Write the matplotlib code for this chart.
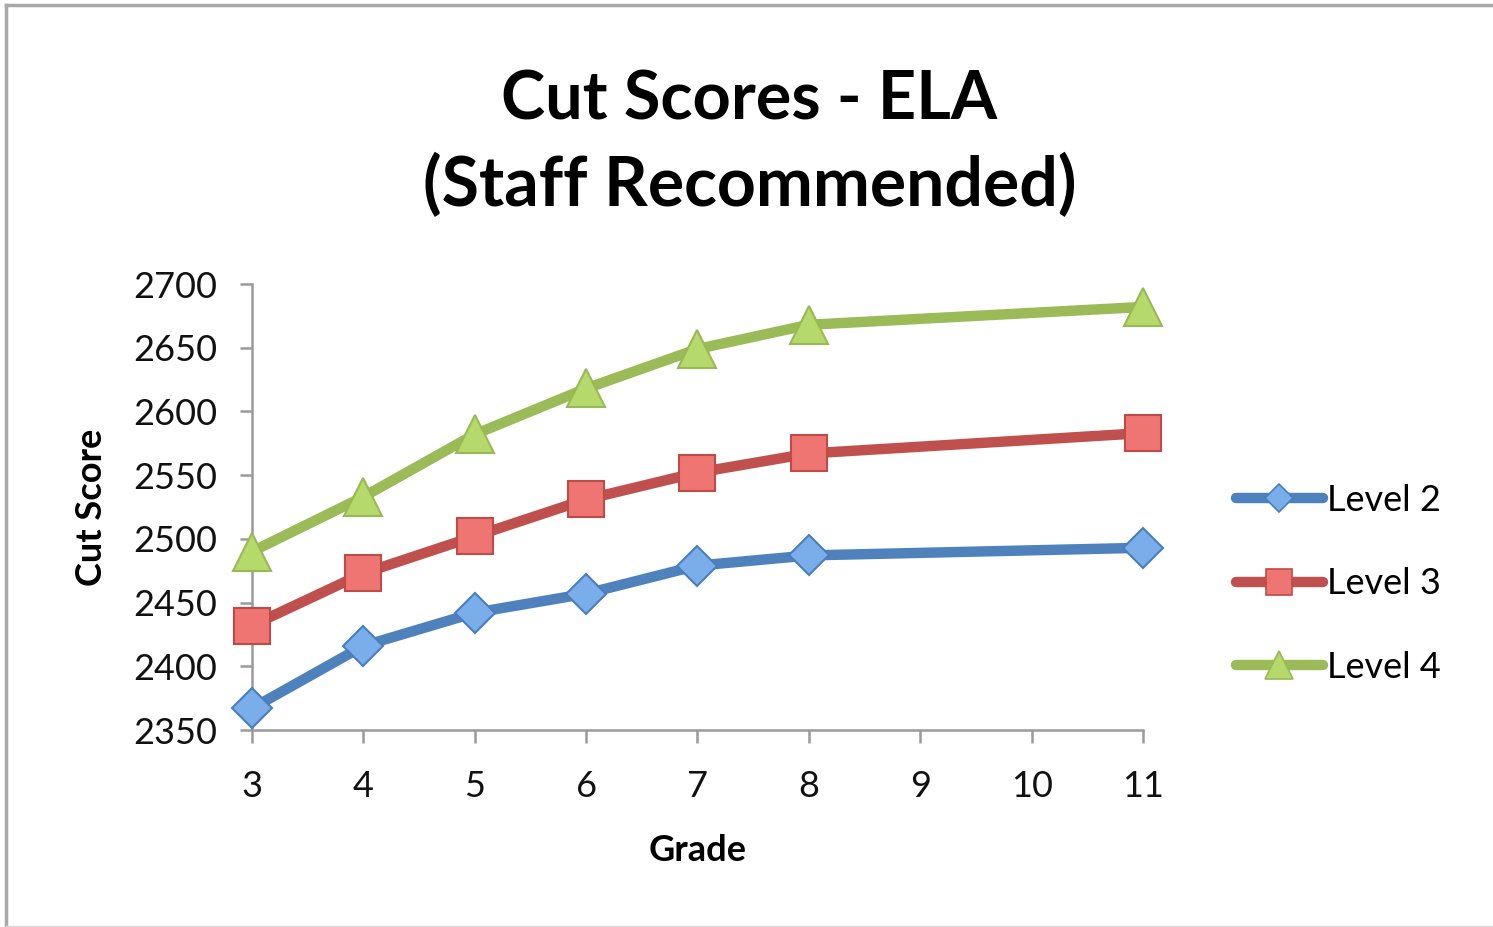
import matplotlib
matplotlib.use("Agg")
import matplotlib.pyplot as plt
from matplotlib.lines import Line2D

grades = [3, 4, 5, 6, 7, 8, 11]
level2 = [2367, 2416, 2442, 2457, 2479, 2487, 2493]
level3 = [2432, 2473, 2502, 2531, 2552, 2567, 2583]
level4 = [2490, 2533, 2582, 2618, 2649, 2668, 2682]
series_names = ["Level 2", "Level 3", "Level 4"]
x_ticks = [3, 4, 5, 6, 7, 8, 9, 10, 11]
y_ticks = [2350, 2400, 2450, 2500, 2550, 2600, 2650, 2700]

plt.rcParams['font.family'] = ['Lato', 'DejaVu Sans']

fig = plt.figure(figsize=(14.93, 9.27), dpi=100)
ax = fig.add_axes([252/1493, 1-730/927, (1143-252)/1493, (730-284)/927])

styles = [
    dict(color='#4F81BD', marker='D', ms=20, mfc='#79AEEA', mec='#4A7EBB'),
    dict(color='#C0504D', marker='s', ms=26, mfc='#EE7572', mec='#BE4B48'),
    dict(color='#9BBB59', marker='^', ms=28, mfc='#B5D96B', mec='#98B954'),
]
for vals, st in zip([level2, level3, level4], styles):
    ax.plot(grades, vals, lw=7.5, solid_capstyle='round', solid_joinstyle='round',
            color=st['color'], marker=st['marker'], markersize=st['ms'],
            markerfacecolor=st['mfc'], markeredgecolor=st['mec'], markeredgewidth=1.5,
            clip_on=False, zorder=3)

ax.set_xlim(3, 11)
ax.set_ylim(2350, 2700)
ax.set_xticks(x_ticks)
ax.set_yticks(y_ticks)
for s in ['top', 'right']:
    ax.spines[s].set_visible(False)
for s in ['left', 'bottom']:
    ax.spines[s].set_color('#9a9a9a')
    ax.spines[s].set_linewidth(1.8)
ax.tick_params(axis='both', colors='#9a9a9a', length=9, width=1.8, labelsize=26,
               labelcolor='#111111')
ax.tick_params(axis='y', pad=16)
ax.tick_params(axis='x', pad=20)

ax.set_xlabel("Grade", fontsize=26, fontweight='bold', labelpad=22)
ax.set_ylabel("Cut Score", fontsize=26, fontweight='bold', labelpad=18)

fig.text(0.502, 1-100/927, "Cut Scores - ELA", ha='center', va='center',
         fontsize=48, fontweight='bold')
fig.text(0.502, 1-185/927, "(Staff Recommended)", ha='center', va='center',
         fontsize=49, fontweight='bold')

handles = []
for st in styles:
    handles.append(Line2D([0], [0], lw=7.5, solid_capstyle='round', color=st['color'],
                          marker=st['marker'], markersize=st['ms']*0.72,
                          markerfacecolor=st['mfc'], markeredgecolor=st['mec'],
                          markeredgewidth=1.2))
leg = fig.legend(handles, series_names, loc='center left',
                 bbox_to_anchor=(1236/1493, 1-584/927), frameon=False,
                 fontsize=26, handlelength=2.4, handletextpad=0.12,
                 labelspacing=1.40, borderpad=0, borderaxespad=0)

# outer border
fig.add_artist(Line2D([6/1493, 1], [1-5/927, 1-5/927], transform=fig.transFigure,
                      color='#a8a8a8', lw=2.5))
fig.add_artist(Line2D([6/1493, 6/1493], [1-5/927, 1-926/927], transform=fig.transFigure,
                      color='#a8a8a8', lw=2.5))
fig.add_artist(Line2D([6/1493, 1], [1-926/927, 1-926/927], transform=fig.transFigure,
                      color='#dddddd', lw=1))

fig.savefig("out.png", dpi=100, facecolor='white')
